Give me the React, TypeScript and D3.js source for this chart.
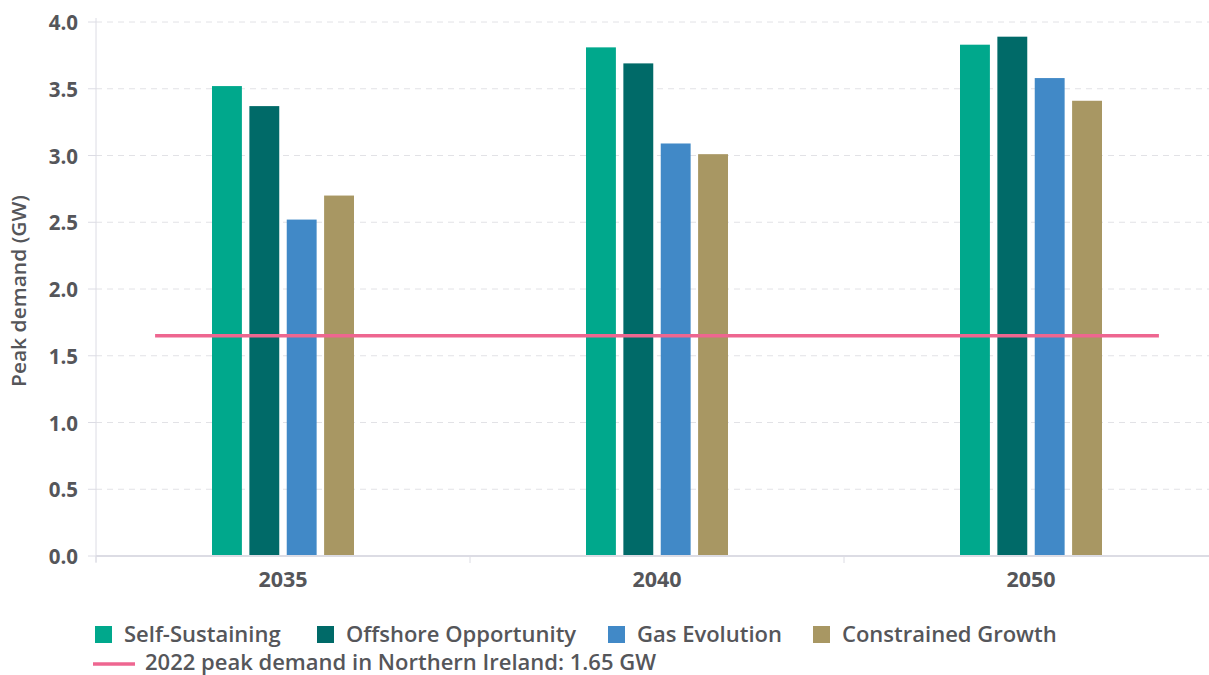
import React from 'react';
import * as d3 from 'd3';

const years = ['2035', '2040', '2050'];
const scenarios = ['Self-Sustaining', 'Offshore Opportunity', 'Gas Evolution', 'Constrained Growth'];
const colors = ['#00a88c', '#006a68', '#4189c7', '#a89763'];
const selfSustaining = [3.52, 3.81, 3.83];
const offshoreOpportunity = [3.37, 3.69, 3.89];
const gasEvolution = [2.52, 3.09, 3.58];
const constrainedGrowth = [2.7, 3.01, 3.41];
const peak2022 = 1.65;
const yTicks = [0, 0.5, 1, 1.5, 2, 2.5, 3, 3.5, 4];

const series = [selfSustaining, offshoreOpportunity, gasEvolution, constrainedGrowth];

export default function App() {
  const W = 1209;
  const H = 675;
  const left = 96;
  const top = 22;
  const bottom = 556;
  const font = '"Open Sans", Lato, sans-serif';
  const textColor = '#55565a';

  const x = d3.scaleBand().domain(years).range([left, left + 374 * 3]).paddingInner(0).paddingOuter(0);
  const inner = d3.scaleBand().domain(scenarios).range([0, 142]).paddingInner(0.2);
  const y = d3.scaleLinear().domain([0, 4]).range([bottom, top]);

  const bw = x.bandwidth();
  const centers = years.map((yr) => (x(yr) as number) + bw / 2);
  const lineX1 = centers[0] - bw * 0.342;
  const lineX2 = centers[centers.length - 1] + bw * 0.342;

  const legendItems = [
    { x: 95, label: scenarios[0], color: colors[0] },
    { x: 317, label: scenarios[1], color: colors[1] },
    { x: 608, label: scenarios[2], color: colors[2] },
    { x: 813, label: scenarios[3], color: colors[3] },
  ];

  return (
    <svg width={W} height={H} style={{ position: 'absolute', left: 0, top: 0 }}>
      <rect width={W} height={H} fill="#fff" />
      {/* grid */}
      {yTicks.slice(1).map((t) => (
        <line key={t} x1={left} x2={W} y1={y(t)} y2={y(t)} stroke="#e2e2e6" strokeDasharray="6,5" strokeWidth={1} />
      ))}
      {/* y axis */}
      <line x1={left} x2={left} y1={top - 4} y2={bottom + 6} stroke="#dcdce4" />
      {yTicks.map((t) => (
        <g key={'yt' + t}>
          <line x1={left - 8} x2={left} y1={y(t)} y2={y(t)} stroke="#dcdce4" />
          <text x={78} y={y(t) + 8} textAnchor="end" fontFamily={font} fontWeight={700} fontSize={20.5} fill={textColor}>
            {t.toFixed(1)}
          </text>
        </g>
      ))}
      <text
        transform={`translate(26,${(top + bottom) / 2 + 2}) rotate(-90)`}
        textAnchor="middle"
        fontFamily={font}
        fontWeight={600}
        fontSize={20.5}
        textLength={192}
        lengthAdjust="spacingAndGlyphs"
        fill={textColor}
      >
        Peak demand (GW)
      </text>
      {/* bars */}
      {years.map((yr, i) => (
        <g key={yr} transform={`translate(${centers[i] - 71},0)`}>
          {scenarios.map((s, j) => (
            <rect key={s} x={inner(s)} y={y(series[j][i])} width={inner.bandwidth()} height={bottom - y(series[j][i])} fill={colors[j]} />
          ))}
        </g>
      ))}
      {/* x axis */}
      <line x1={left} x2={W} y1={bottom} y2={bottom} stroke="#dcdce4" strokeWidth={2} />
      {years.map((yr) => (
        <line key={'xt' + yr} x1={x(yr)} x2={x(yr)} y1={bottom} y2={bottom + 7} stroke="#dcdce4" />
      ))}
      {years.map((yr, i) => (
        <text key={'xl' + yr} x={centers[i]} y={587} textAnchor="middle" fontFamily={font} fontWeight={700} fontSize={21.5} fill={textColor}>
          {yr}
        </text>
      ))}
      {/* 2022 peak line */}
      <line x1={lineX1} x2={lineX2} y1={y(peak2022)} y2={y(peak2022)} stroke="#ee6690" strokeWidth={3.5} />
      {/* legend */}
      {legendItems.map((it) => (
        <g key={it.label}>
          <rect x={it.x} y={626} width={17} height={17} fill={it.color} />
          <text x={it.x + 29} y={642} fontFamily={font} fontWeight={600} fontSize={22} fill={textColor}>
            {it.label}
          </text>
        </g>
      ))}
      <line x1={93} x2={135} y1={664} y2={664} stroke="#ee6690" strokeWidth={3.5} />
      <text x={145} y={670} fontFamily={font} fontWeight={600} fontSize={22} fill={textColor}>
        2022 peak demand in Northern Ireland: 1.65 GW
      </text>
    </svg>
  );
}
